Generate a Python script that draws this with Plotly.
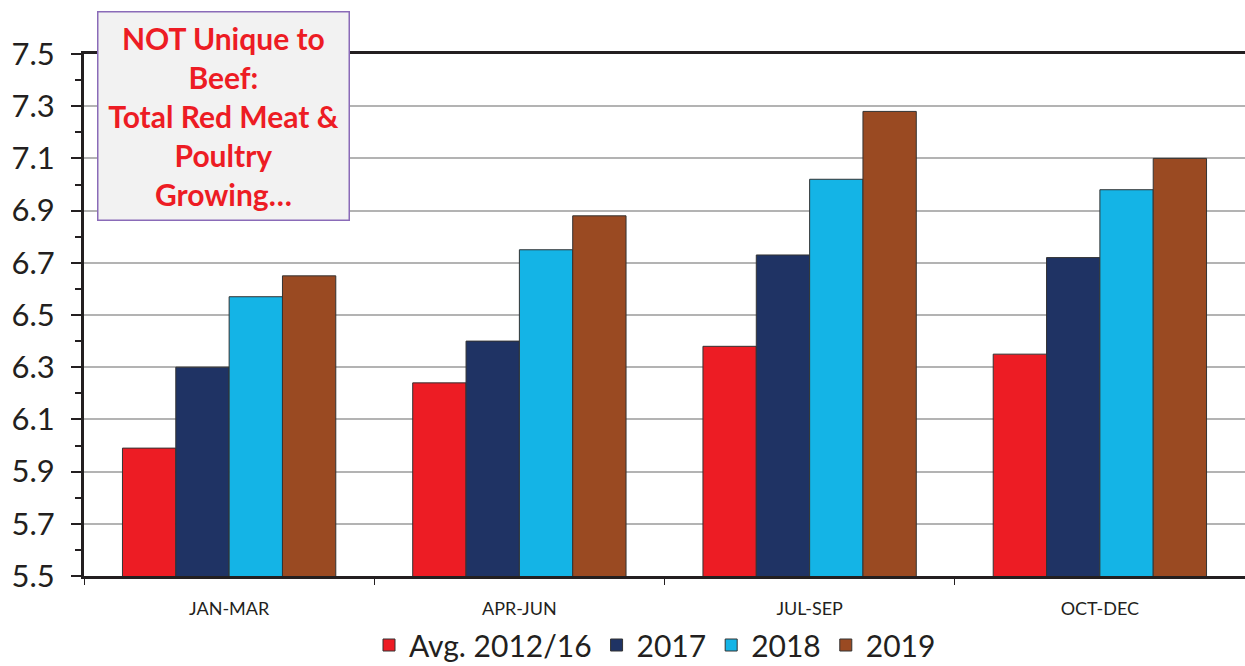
import plotly.graph_objects as go

quarters = ["JAN-MAR", "APR-JUN", "JUL-SEP", "OCT-DEC"]
series_names = ["Avg. 2012/16", "2017", "2018", "2019"]
avg_2012_16 = [5.99, 6.24, 6.38, 6.35]
y2017 = [6.30, 6.40, 6.73, 6.72]
y2018 = [6.57, 6.75, 7.02, 6.98]
y2019 = [6.65, 6.88, 7.28, 7.10]
colors = ["#ed1c24", "#1f3364", "#14b4e6", "#9a4a22"]
ytick_vals = [5.5, 5.7, 5.9, 6.1, 6.3, 6.5, 6.7, 6.9, 7.1, 7.3, 7.5]

fig = go.Figure()
for name, vals, col in zip(series_names, [avg_2012_16, y2017, y2018, y2019], colors):
    fig.add_trace(go.Bar(x=quarters, y=vals, name=name, marker=dict(color=col, line=dict(color="#333333", width=1))))

fig.update_layout(
    width=1245, height=666,
    margin=dict(l=84, r=0, t=54, b=90, autoexpand=False),
    paper_bgcolor="white", plot_bgcolor="white",
    barmode="group", bargap=0.265, bargroupgap=0,
    font=dict(family="Lato, Open Sans, sans-serif", color="#231f20"),
    legend=dict(orientation="h", xref="container", yref="container", x=655 / 1245, xanchor="center",
                y=21 / 666, yanchor="middle",
                font=dict(size=30, color="#231f20"), itemwidth=30, traceorder="normal"),
)
fig.update_xaxes(showline=True, linecolor="#231f20", linewidth=3, mirror=True, automargin=False,
                 ticks="outside", tickson="boundaries", ticklen=6, tickcolor="#231f20",
                 tickfont=dict(size=18), showgrid=False, ticklabelstandoff=14)
fig.update_yaxes(range=[5.5, 7.5], tickvals=ytick_vals, tickformat=".1f", automargin=False,
                 showline=True, linecolor="#231f20", linewidth=3,
                 ticks="outside", ticklen=10, tickcolor="#231f20", tickwidth=2, ticklabelstandoff=10,
                 minor=dict(dtick=0.1, tick0=5.5, ticks="outside", ticklen=6, tickcolor="#231f20", showgrid=False),
                 gridcolor="#b3b3b3", gridwidth=1.5, zeroline=False,
                 tickfont=dict(size=31, color="#231f20"))

fig.add_annotation(
    xref="paper", yref="paper", x=(97 - 84) / 1161, y=(576 - 11) / 522, xanchor="left", yanchor="top",
    text="<b>NOT Unique to<br>Beef:<br>Total Red Meat &amp;<br>Poultry<br>Growing…</b>",
    showarrow=False, align="center", font=dict(size=30, color="#ed1c24"),
    bgcolor="#f2f2f2", bordercolor="#8a6bb8", borderwidth=1.5,
    width=248, height=205,
)

# page body has a default margin; remove it so the figure sits at the window corner
fig.write_html("out.html", config={"displayModeBar": False},
               post_script="document.body.style.margin='0';")
